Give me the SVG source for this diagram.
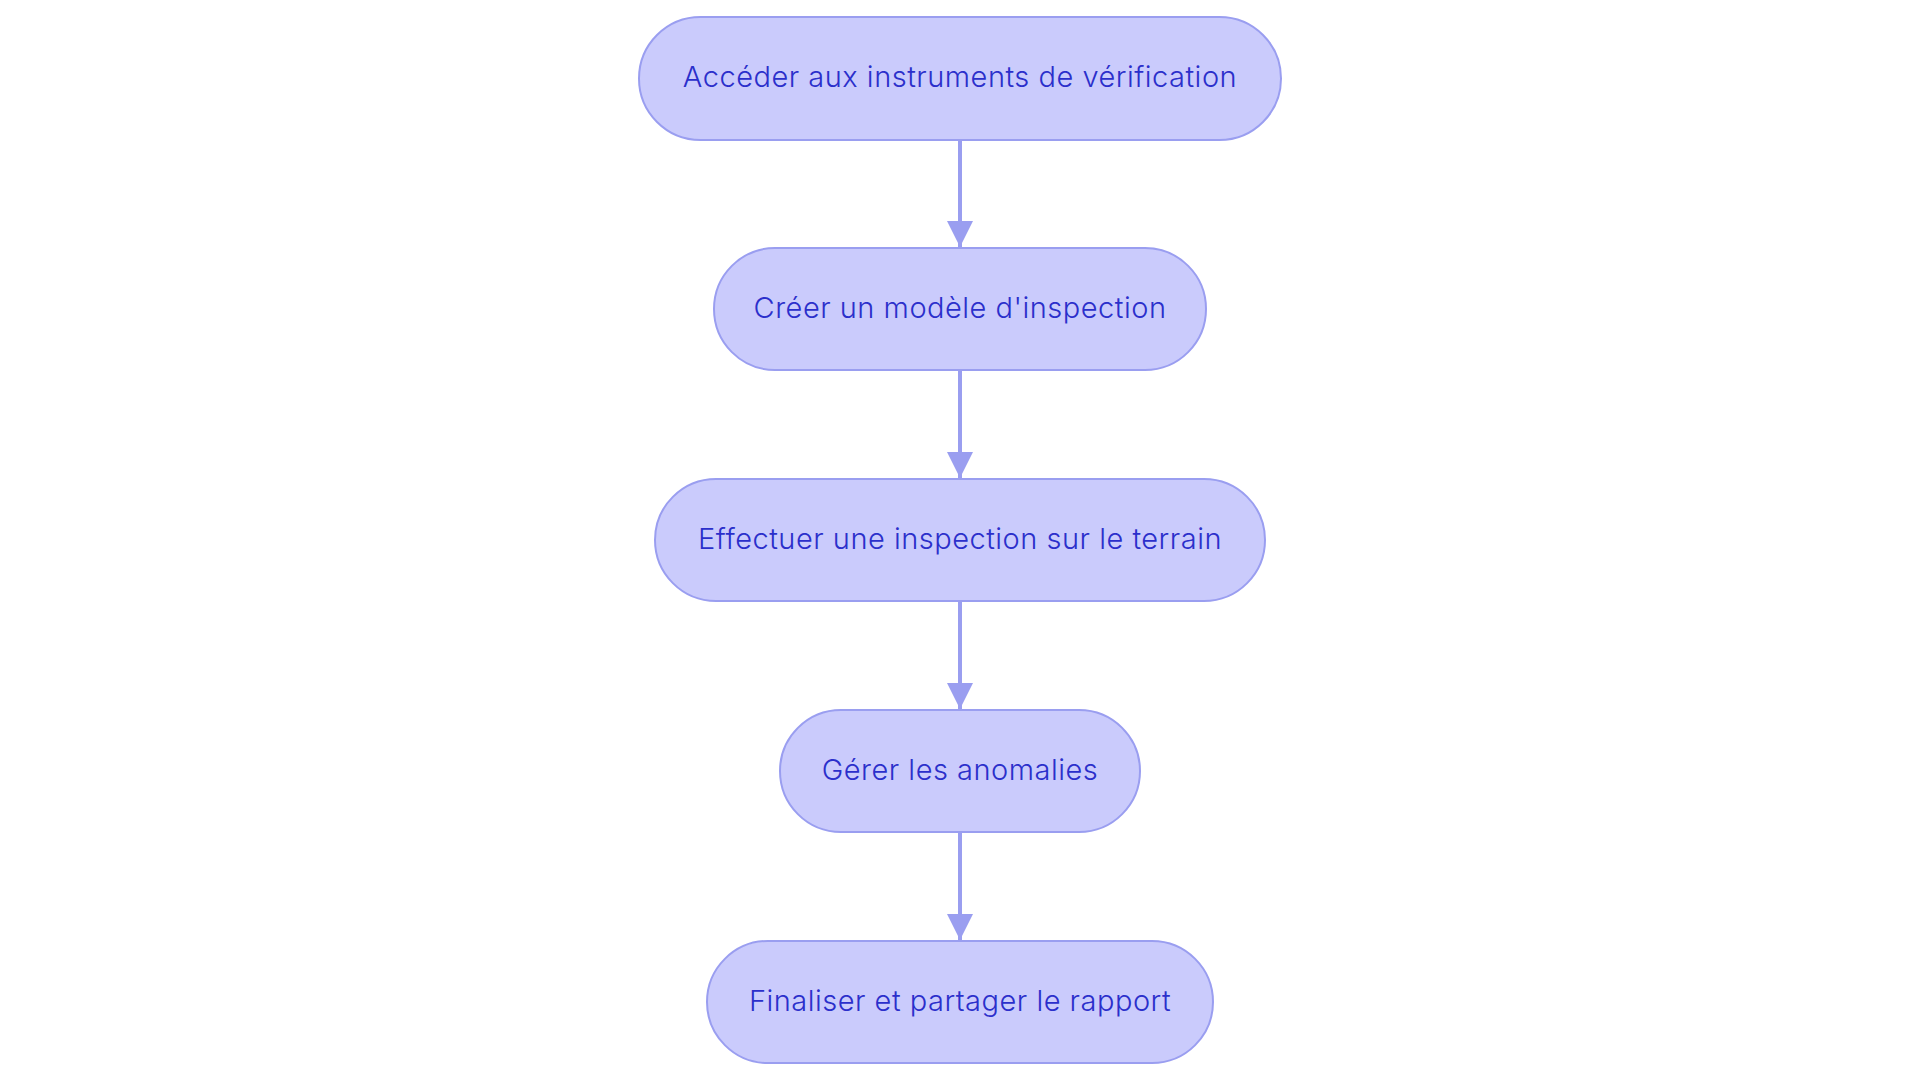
<svg xmlns="http://www.w3.org/2000/svg" width="1920" height="1083" viewBox="0 0 1920 1083">
<style>
.node rect{fill:#CACBFC;stroke:#9A9EF0;stroke-width:2}
.node text{font-family:Inter,"Noto Sans",sans-serif;font-size:29px;font-weight:300;letter-spacing:0.5px;fill:#2B2FCB;text-anchor:middle;dominant-baseline:central}
.edge{stroke:#9A9EF0;stroke-width:4;fill:none}
</style>
<defs>
<marker id="arr" viewBox="0 0 10 10" refX="10" refY="5" markerWidth="6.5" markerHeight="6.5" orient="auto" markerUnits="strokeWidth">
<path d="M0,0 L10,5 L0,10 z" fill="#9A9EF0"/>
</marker>
</defs>
<rect width="1920" height="1083" fill="#ffffff"/>
<g id="connectors">
<line class="edge" x1="960" y1="140" x2="960" y2="247" marker-end="url(#arr)"/>
<line class="edge" x1="960" y1="370" x2="960" y2="478" marker-end="url(#arr)"/>
<line class="edge" x1="960" y1="601" x2="960" y2="709" marker-end="url(#arr)"/>
<line class="edge" x1="960" y1="832" x2="960" y2="940" marker-end="url(#arr)"/>
</g>
<g id="n1" class="node"><rect x="639" y="17" width="642" height="123" rx="61.5"/><text x="960" y="76">Accéder aux instruments de vérification</text></g>
<g id="n2" class="node"><rect x="714" y="248" width="492" height="122" rx="61"/><text x="960" y="307">Créer un modèle d'inspection</text></g>
<g id="n3" class="node"><rect x="655" y="479" width="610" height="122" rx="61"/><text x="960" y="538">Effectuer une inspection sur le terrain</text></g>
<g id="n4" class="node"><rect x="780" y="710" width="360" height="122" rx="61"/><text x="960" y="769">Gérer les anomalies</text></g>
<g id="n5" class="node"><rect x="707" y="941" width="506" height="122" rx="61"/><text x="960" y="1000">Finaliser et partager le rapport</text></g>
</svg>
